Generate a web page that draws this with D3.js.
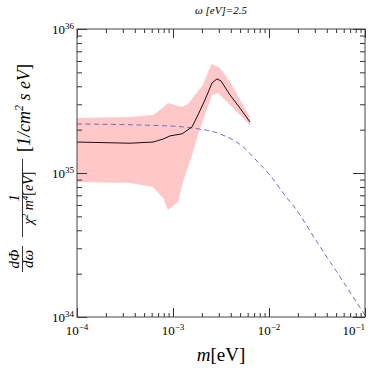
<!DOCTYPE html>
<html>
<head>
<meta charset="utf-8">
<script src="https://cdn.jsdelivr.net/npm/d3@7"></script>
<style>
  body { margin: 0; background: #fff; }
</style>
</head>
<body>
<div id="chart"></div>
<script>
// central curve (black)
const mCentral = [1e-4, 3.56e-4, 6.19e-4, 7.87e-4, 9.31e-4, 1.24e-3, 1.58e-3, 1.82e-3, 2.15e-3, 2.55e-3, 2.87e-3, 3.16e-3, 3.93e-3, 4.99e-3, 6.34e-3]
const fluxCentral = [1.64e35, 1.61e35, 1.64e35, 1.72e35, 1.81e35, 1.87e35, 2.09e35, 2.53e35, 3.21e35, 4.22e35, 4.50e35, 4.36e35, 3.48e35, 2.82e35, 2.26e35]

// uncertainty band (pink), upper and lower edges
const mUpper = [1e-4, 3.56e-4, 6.19e-4, 7.33e-4, 8.87e-4, 1.24e-3, 1.43e-3, 1.69e-3, 2.05e-3, 2.43e-3, 2.55e-3, 3.09e-3, 3.93e-3, 6.34e-3]
const fluxUpper = [2.41e35, 2.45e35, 2.53e35, 2.74e35, 3.06e35, 2.87e35, 3.01e35, 3.48e35, 4.08e35, 5.45e35, 5.71e35, 5.36e35, 4.29e35, 2.45e35]
const mLower = [1e-4, 3.56e-4, 6.19e-4, 7.87e-4, 8.87e-4, 1.13e-3, 1.27e-3, 1.58e-3, 1.82e-3, 2.15e-3, 2.55e-3, 2.94e-3, 3.93e-3, 6.34e-3]
const fluxLower = [8.66e34, 8.53e34, 8.0e34, 6.70e34, 5.53e34, 6.29e34, 8.66e34, 1.33e35, 1.84e35, 2.53e35, 3.48e35, 3.59e35, 2.97e35, 2.15e35]

// dashed curve (blue)
const mDashed = [1e-4, 9.31e-4, 1.62e-3, 2.87e-3, 5.36e-3, 7.67e-3, 1.02e-2, 1.54e-2, 1.87e-2, 3.16e-2, 5.49e-2, 1e-1]
const fluxDashed = [2.19e35, 2.12e35, 2.05e35, 1.90e35, 1.52e35, 1.19e35, 9.68e34, 6.70e34, 5.71e34, 3.32e34, 1.90e34, 1.03e34]

// ticks
const xDecades = [-4, -3, -2, -1]
const yDecades = [34, 35, 36]
const titleText = "ω [eV]=2.5"

const width = 288
const height = 288
const margin = {top: 29, right: 14, bottom: 57, left: 77}

const svg = d3.select("#chart")
  .append("svg")
  .attr("width", 379)
  .attr("height", 374)
  .attr("font-family", "'Liberation Serif', 'Times New Roman', Times, serif")

const g = svg.append("g")
  .attr("transform", `translate(${margin.left}, ${margin.top})`)

const xScale = d3.scaleLog().domain([1e-4, 1e-1]).range([0, width])
const yScale = d3.scaleLog().domain([1e34, 1e36]).range([height, 0])

// band
const bandPoints = mUpper.map((m, i) => [m, fluxUpper[i]])
  .concat(mLower.map((m, i) => [m, fluxLower[i]]).reverse())

const pointLine = d3.line()
  .x(d => xScale(d[0]))
  .y(d => yScale(d[1]))

g.append("path")
  .datum(bandPoints)
  .attr("d", d => pointLine(d) + "Z")
  .attr("fill", "#ffc8c8")
  .attr("stroke", "none")

// dashed line
g.append("path")
  .datum(mDashed.map((m, i) => [m, fluxDashed[i]]))
  .attr("d", d3.line().x(d => xScale(d[0])).y(d => yScale(d[1])).curve(d3.curveMonotoneX))
  .attr("fill", "none")
  .attr("stroke", "#6b6bcf")
  .attr("stroke-width", 1)
  .attr("stroke-dasharray", "5,3.5")

// central line
g.append("path")
  .datum(mCentral.map((m, i) => [m, fluxCentral[i]]))
  .attr("d", pointLine)
  .attr("fill", "none")
  .attr("stroke", "#111")
  .attr("stroke-width", 1)

// tick values
const minorTicks = (decades) => {
  const out = []
  decades.slice(0, -1).forEach(e => {
    for (let k = 2; k <= 9; k++) out.push(k * Math.pow(10, e))
  })
  return out
}
const xMajor = xDecades.map(e => Math.pow(10, e))
const yMajor = yDecades.map(e => Math.pow(10, e))

const styleAxis = sel => {
  sel.select(".domain").remove()
  sel.selectAll("line").attr("stroke", "#333").attr("stroke-width", 1)
}

// bottom / top
g.append("g").attr("transform", `translate(0, ${height})`)
  .call(d3.axisBottom(xScale).tickValues(minorTicks(xDecades)).tickSize(-4).tickFormat(""))
  .call(styleAxis)
g.append("g").attr("transform", `translate(0, ${height})`)
  .call(d3.axisBottom(xScale).tickValues(xMajor).tickSize(-9).tickFormat(""))
  .call(styleAxis)
g.append("g")
  .call(d3.axisTop(xScale).tickValues(minorTicks(xDecades)).tickSize(-4).tickFormat(""))
  .call(styleAxis)
g.append("g")
  .call(d3.axisTop(xScale).tickValues(xMajor).tickSize(-9).tickFormat(""))
  .call(styleAxis)

// left / right
g.append("g")
  .call(d3.axisLeft(yScale).tickValues(minorTicks(yDecades)).tickSize(-5).tickFormat(""))
  .call(styleAxis)
g.append("g")
  .call(d3.axisLeft(yScale).tickValues(yMajor).tickSize(-10).tickFormat(""))
  .call(styleAxis)
g.append("g").attr("transform", `translate(${width}, 0)`)
  .call(d3.axisRight(yScale).tickValues(minorTicks(yDecades)).tickSize(-5).tickFormat(""))
  .call(styleAxis)
g.append("g").attr("transform", `translate(${width}, 0)`)
  .call(d3.axisRight(yScale).tickValues(yMajor).tickSize(-12).tickFormat(""))
  .call(styleAxis)

// frame
g.append("rect")
  .attr("width", width)
  .attr("height", height)
  .attr("fill", "none")
  .attr("stroke", "#444")
  .attr("stroke-width", 1)

// x tick labels
xDecades.forEach((e, i) => {
  const last = i === xDecades.length - 1
  const t = g.append("text")
    .attr("x", xScale(Math.pow(10, e)))
    .attr("y", height + 18)
    .attr("text-anchor", last ? "end" : "middle")
    .attr("font-size", "13px")
  t.append("tspan").text("10")
  t.append("tspan").attr("dy", -5).attr("font-size", "9px").text("−" + Math.abs(e))
})

// y tick labels
yDecades.forEach(e => {
  const t = g.append("text")
    .attr("x", -3)
    .attr("y", yScale(Math.pow(10, e)) + 5)
    .attr("text-anchor", "end")
    .attr("font-size", "13px")
  t.append("tspan").text("10")
  t.append("tspan").attr("dy", -5).attr("font-size", "9px").text(e)
})

// title
svg.append("text")
  .attr("x", margin.left + width / 2)
  .attr("y", 14)
  .attr("text-anchor", "middle")
  .attr("font-size", "11px")
  .attr("font-style", "italic")
  .text(titleText)

// x label
const xl = svg.append("text")
  .attr("x", margin.left + width / 2)
  .attr("y", 361)
  .attr("text-anchor", "middle")
  .attr("font-size", "19px")
xl.append("tspan").attr("font-style", "italic").text("m")
xl.append("tspan").text("[eV]")

// y label (rotated)
const yl = svg.append("g").attr("transform", "rotate(-90)")

// dPhi / domega
const f1 = -259
yl.append("text").attr("x", f1).attr("y", 19).attr("text-anchor", "middle")
  .attr("font-size", "15px").attr("font-style", "italic").text("dΦ")
yl.append("line").attr("x1", f1 - 13).attr("x2", f1 + 13).attr("y1", 22.5).attr("y2", 22.5)
  .attr("stroke", "#000").attr("stroke-width", 0.8)
yl.append("text").attr("x", f1).attr("y", 33).attr("text-anchor", "middle")
  .attr("font-size", "15px").attr("font-style", "italic").text("dω")

// 1 / (chi^2 m^4 [eV])
const f2 = -198
yl.append("text").attr("x", f2).attr("y", 19).attr("text-anchor", "middle")
  .attr("font-size", "15px").attr("font-style", "italic").text("1")
yl.append("line").attr("x1", f2 - 39).attr("x2", f2 + 39).attr("y1", 22.5).attr("y2", 22.5)
  .attr("stroke", "#000").attr("stroke-width", 0.8)
const den = yl.append("text").attr("x", f2).attr("y", 33).attr("text-anchor", "middle")
  .attr("font-size", "14px").attr("font-style", "italic")
den.append("tspan").text("χ")
den.append("tspan").attr("dy", -5).attr("font-size", "9px").text("2")
den.append("tspan").attr("dy", 5).text(" m")
den.append("tspan").attr("dy", -5).attr("font-size", "9px").text("4")
den.append("tspan").attr("dy", 5).attr("font-style", "normal").text("[")
den.append("tspan").text("eV")
den.append("tspan").attr("font-style", "normal").text("]")

// [1/cm^2 s eV]
const unit = yl.append("text").attr("x", -108).attr("y", 30).attr("text-anchor", "middle")
  .attr("font-size", "18px").attr("font-style", "italic")
unit.append("tspan").attr("font-style", "normal").text("[")
unit.append("tspan").text("1/cm")
unit.append("tspan").attr("dy", -7).attr("font-size", "12px").text("2")
unit.append("tspan").attr("dy", 7).text(" s eV")
unit.append("tspan").attr("font-style", "normal").text("]")
</script>
</body>
</html>
